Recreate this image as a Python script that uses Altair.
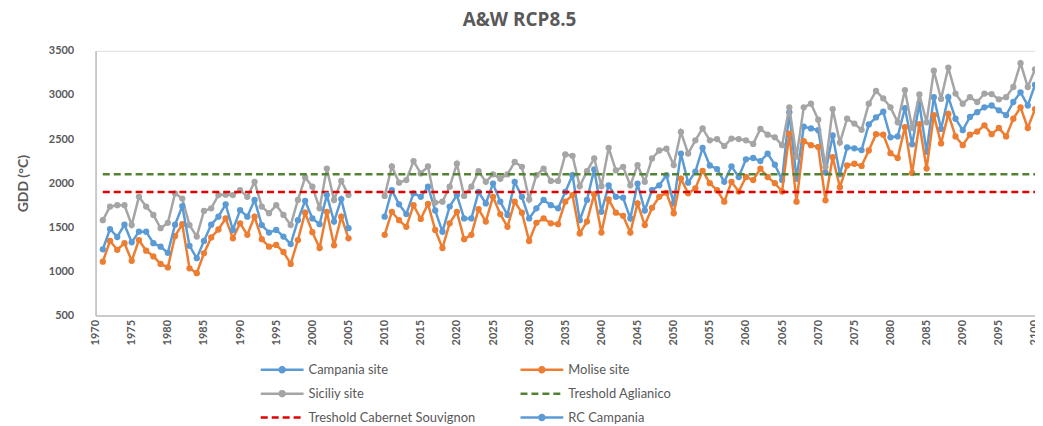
import altair as alt
import pandas as pd

# ---------------- data ----------------
YEARS_HIST = list(range(1971, 2006))
YEARS_FUT = list(range(2010, 2101))
THRESHOLD_YEARS = [1971, 2100]

RC_CAMPANIA = [1250, 1480, 1390, 1530, 1330, 1450, 1450, 1320, 1280, 1210,
               1530, 1740, 1290, 1150, 1345, 1530, 1620, 1760, 1470, 1695,
               1620, 1810, 1525, 1440, 1470, 1395, 1310, 1580, 1800, 1600,
               1535, 1865, 1565, 1820, 1490]
MOLISE_HIST = [1110, 1345, 1245, 1320, 1120, 1355, 1235, 1170, 1085, 1045,
               1400, 1535, 1035, 980, 1205, 1385, 1475, 1600, 1375, 1545,
               1415, 1620, 1365, 1280, 1300, 1220, 1085, 1355, 1665, 1445,
               1265, 1675, 1295, 1620, 1375]
SICILY_HIST = [1580, 1735, 1750, 1750, 1525, 1845, 1735, 1640, 1490, 1550,
               1885, 1825, 1525, 1395, 1685, 1715, 1865, 1870, 1865, 1920,
               1845, 2015, 1735, 1660, 1750, 1640, 1525, 1810, 2065, 1960,
               1715, 2165, 1810, 2025, 1865]

CAMPANIA_FUT = [1620, 1920, 1760, 1650, 1885, 1845, 1960, 1690, 1450, 1735,
                1865, 1600, 1600, 1900, 1770, 1995, 1790, 1640, 2015, 1845,
                1600, 1715, 1810, 1750, 1715, 1900, 2090, 1580, 1810, 2155,
                1675, 1975, 1845, 1835, 1600, 1995, 1690, 1920, 1975, 2090,
                1770, 2335, 2005, 2130, 2400,
                2200, 2160, 2015, 2190, 2070, 2270, 2285, 2250, 2335, 2210, 2035,
                2805, 2050, 2640, 2620,
                2600, 2120, 2540, 2100, 2405, 2395, 2375, 2665, 2745, 2810,
                2520, 2530, 2850, 2440, 2900, 2355,
                2975, 2615, 2975, 2730, 2600, 2750, 2805, 2860, 2880, 2825,
                2770, 2920, 3030, 2880, 3115]
MOLISE_FUT = [1415, 1675, 1580, 1505, 1750, 1595, 1765, 1470, 1265, 1545,
              1675, 1365, 1415, 1705, 1565, 1845, 1650, 1505, 1790, 1665,
              1345, 1550, 1600, 1545, 1535, 1790, 1865, 1430, 1565, 1875,
              1440, 1815, 1665, 1630, 1440, 1770, 1525, 1720, 1845, 1890,
              1660, 2050, 1885, 1940, 2140,
              2000, 1920, 1790, 2015, 1905, 2070, 2035, 2165, 2070, 2000, 1905,
              2560, 1790, 2475, 2430,
              2410, 1805, 2295, 1955, 2200, 2220, 2195, 2370, 2555, 2550,
              2340, 2285, 2635, 2115, 2670, 2165,
              2770, 2450, 2785, 2530, 2430, 2550, 2585, 2655, 2555, 2625,
              2530, 2730, 2860, 2625, 2840]
SICILY_FUT = [1855, 2190, 2005, 2035, 2250, 2110, 2190, 1780, 1790, 1960,
              2220, 1855, 1960, 2135, 2015, 2100, 2050, 2100, 2240, 2185,
              1815, 2090, 2165, 2025, 2025, 2325, 2310, 1965, 2135, 2280,
              1965, 2400, 2145, 2185, 1975, 2205, 2015, 2280, 2370, 2390,
              2205, 2580, 2335, 2485, 2620,
              2485, 2500, 2420, 2505, 2500, 2485, 2445, 2615, 2550, 2520, 2430,
              2860, 2300, 2860, 2900,
              2720, 2185, 2840, 2460, 2730, 2675, 2605, 2900, 3045, 2960,
              2860, 2690, 3055, 2625, 3005, 2690,
              3275, 2955, 3310, 3015, 2900, 2975, 2920, 3015, 3010, 2950,
              2975, 3090, 3360, 3090, 3290]

AGLIANICO = [2100, 2100]
CABERNET = [1900, 1900]

# drawing order (as in the source chart)
SERIES = ["Campania site", "Molise site", "Siciliy site",
          "Treshold Aglianico", "Treshold Cabernet Souvignon", "RC Campania"]
# legend order (legend fills column by column: 3 rows x 2 columns)
LEGEND_ORDER = ["Campania site", "Siciliy site", "Treshold Cabernet Souvignon",
                "Molise site", "Treshold Aglianico", "RC Campania"]
COLOR_OF = {"Campania site": "#5B9BD5", "Molise site": "#ED7D31",
            "Siciliy site": "#A5A5A5", "Treshold Aglianico": "#548235",
            "Treshold Cabernet Souvignon": "#E00000", "RC Campania": "#5B9BD5"}
THRESHOLDS = ["Treshold Aglianico", "Treshold Cabernet Souvignon"]

# ---------------- table ----------------
rows = []


def add(series, years, values, period):
    assert len(years) == len(values), (series, period, len(values))
    for yr, v in zip(years, values):
        rows.append({"series": series, "year": yr, "value": v, "period": period})


add("Campania site", YEARS_FUT, CAMPANIA_FUT, "fut")
add("Molise site", YEARS_HIST, MOLISE_HIST, "hist")
add("Molise site", YEARS_FUT, MOLISE_FUT, "fut")
add("Siciliy site", YEARS_HIST, SICILY_HIST, "hist")
add("Siciliy site", YEARS_FUT, SICILY_FUT, "fut")
add("Treshold Aglianico", THRESHOLD_YEARS, AGLIANICO, "all")
add("Treshold Cabernet Souvignon", THRESHOLD_YEARS, CABERNET, "all")
add("RC Campania", YEARS_HIST, RC_CAMPANIA, "hist")
df = pd.DataFrame(rows)

TEXT = "#595959"
FONT = "Lato"

# legend symbols: line with a dot for the sites, plain (dashed) line for thresholds
LINE_PATH = "M-1.3,0L7.3,0"
DOT_PATH = ("M-1.3,0L7.3,0"
            "M2.5,0A0.5,0.5,0,1,0,3.5,0A0.5,0.5,0,1,0,2.5,0"
            "M2.85,0A0.15,0.15,0,1,0,3.15,0A0.15,0.15,0,1,0,2.85,0")
COLORS = [COLOR_OF[s] for s in LEGEND_ORDER]
SHAPES = [LINE_PATH if s in THRESHOLDS else DOT_PATH for s in LEGEND_ORDER]
DASHES = [[7, 4] if s in THRESHOLDS else [1, 0] for s in LEGEND_ORDER]

legend = alt.Legend(
    title=None, orient="none", legendX=166, legendY=314, columns=2,
    columnPadding=40, rowPadding=9, symbolSize=100, symbolStrokeWidth=2.5,
    symbolOpacity=1, labelOffset=35, labelFont=FONT, labelFontSize=13,
    labelColor=TEXT, labelLimit=400,
)

color = alt.Color("series:N", scale=alt.Scale(domain=LEGEND_ORDER, range=COLORS), legend=legend)
shape = alt.Shape("series:N", scale=alt.Scale(domain=LEGEND_ORDER, range=SHAPES), legend=legend)
dash = alt.StrokeDash("series:N", scale=alt.Scale(domain=LEGEND_ORDER, range=DASHES), legend=legend)

x = alt.X("year:Q", scale=alt.Scale(domain=[1970, 2100], nice=False, zero=False),
          axis=alt.Axis(values=list(range(1970, 2101, 5)), format="d", labelAngle=270,
                        title=None, grid=False, ticks=False, labelPadding=4,
                        labelFont=FONT, labelFontSize=11, labelFontWeight="bold",
                        labelColor=TEXT, domainColor="#BFBFBF", domainWidth=1.5))
y = alt.Y("value:Q", scale=alt.Scale(domain=[500, 3500], nice=False, zero=False),
          axis=alt.Axis(values=list(range(500, 3501, 500)), format="d", title="GDD (°C)",
                        grid=False, ticks=False, labelPadding=22,
                        labelFont=FONT, labelFontSize=11, labelFontWeight="bold",
                        labelColor=TEXT, titleFont=FONT, titleFontSize=14,
                        titleFontWeight="bold", titleColor=TEXT, titlePadding=18,
                        domainColor="#BFBFBF", domainWidth=1.5))

base = alt.Chart(df)

# invisible helper layer that carries the legend's symbol shapes
helper = base.transform_filter(
    alt.FieldOneOfPredicate(field="series", oneOf=THRESHOLDS)
).mark_point(filled=False, opacity=0).encode(
    x=x, y=y, color=color, shape=shape, strokeDash=dash)

layers = [helper]
for s in SERIES:
    sub = base.transform_filter(alt.datum.series == s)
    layers.append(sub.mark_line(strokeWidth=2.5).encode(
        x=x, y=y, color=color, strokeDash=dash, detail="period:N"))
    if s not in THRESHOLDS:
        layers.append(sub.mark_circle(size=40, opacity=1).encode(
            x=x, y=y, color=color))

chart = alt.layer(*layers).properties(
    width=944, height=266,
    title=alt.TitleParams("A&W RCP8.5", font="Open Sans", fontSize=19,
                          fontWeight="bold", color=TEXT, anchor="middle",
                          frame="group", dx=-46, offset=15),
    autosize=alt.AutoSizeParams(type="none"),
    padding={"left": 88, "top": 42, "right": 0, "bottom": 110},
).configure_view(stroke=None).configure(background="white")

chart.save("out.html", embed_options={"renderer": "svg", "actions": False})
